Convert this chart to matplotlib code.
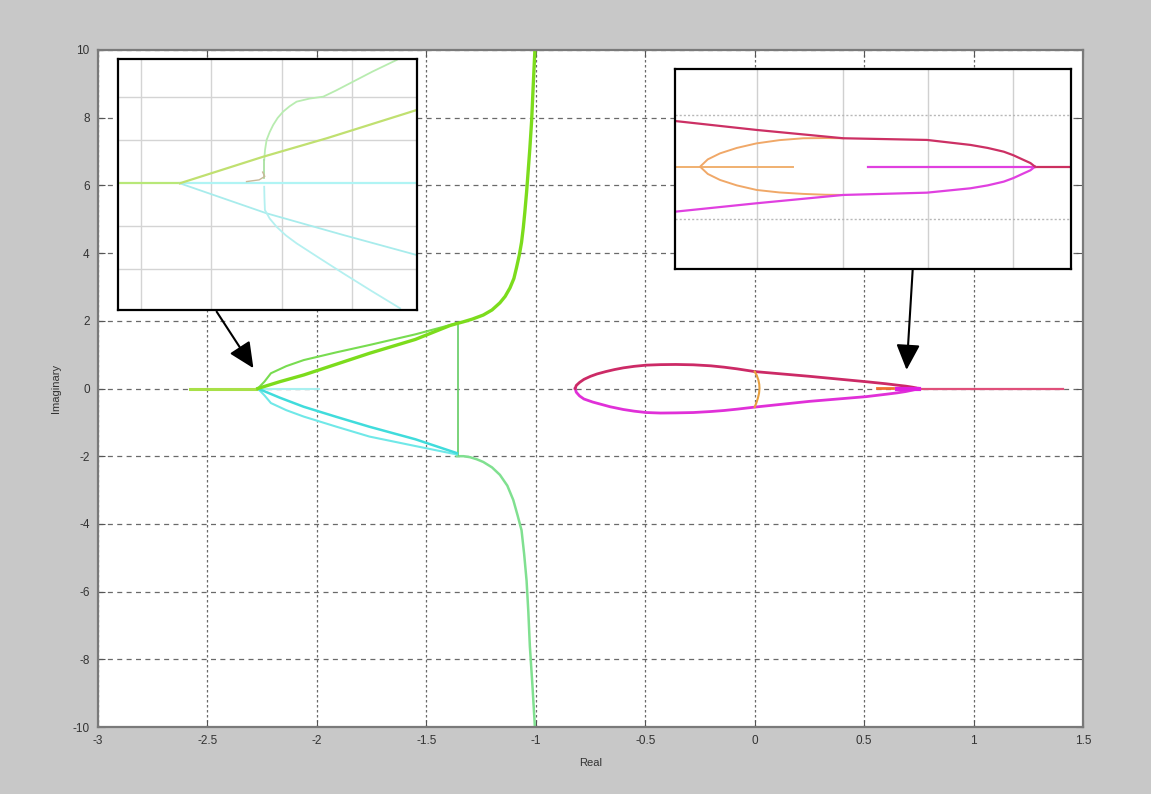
import matplotlib
matplotlib.use("Agg")
import matplotlib.pyplot as plt

plt.rcParams["font.family"] = ["Liberation Sans", "DejaVu Sans"]

# --- root locus branches (real, imag) ---
# left group: breakaway near -2.27, asymptotes to Re = -1
axis_green_re = [-2.58, -2.27]
axis_green_im = [0.0, 0.0]
axis_cyan_re = [-2.27, -1.99]
axis_cyan_im = [0.0, 0.0]

upper_a_re = [-2.27, -2.17, -2.06, -1.91, -1.76, -1.55, -1.392, -1.36, -1.331, -1.29,
              -1.240, -1.20, -1.164, -1.14, -1.118, -1.10, -1.088, -1.075, -1.065,
              -1.057, -1.050, -1.042, -1.035, -1.027, -1.019, -1.012, -1.004]
upper_a_im = [0.0, 0.20, 0.40, 0.72, 1.04, 1.45, 1.86, 1.92, 1.97, 2.05,
              2.17, 2.32, 2.53, 2.72, 2.97, 3.25, 3.57, 3.95, 4.32,
              4.75, 5.21, 5.80, 6.40, 7.10, 7.90, 8.90, 10.0]
upper_b_re = [-2.27, -2.255, -2.24, -2.21, -2.14, -2.06, -1.91, -1.76, -1.55, -1.36]
upper_b_im = [0.0, 0.10, 0.20, 0.45, 0.66, 0.84, 1.07, 1.285, 1.60, 1.93]

lower_a_re = [-2.27, -2.17, -2.06, -1.91, -1.76, -1.55, -1.36]
lower_a_im = [0.0, -0.27, -0.54, -0.84, -1.13, -1.50, -1.91]
lower_b_re = [-2.27, -2.255, -2.24, -2.21, -2.14, -2.06, -1.91, -1.76, -1.55, -1.36]
lower_b_im = [0.0, -0.10, -0.20, -0.43, -0.64, -0.83, -1.13, -1.42, -1.70, -1.95]

lower_tail_re = [-1.361, -1.33, -1.30, -1.27, -1.240, -1.20, -1.164, -1.13, -1.103,
                 -1.083, -1.065, -1.053, -1.042, -1.034, -1.027, -1.015, -1.004]
lower_tail_im = [-2.0, -2.0, -2.03, -2.09, -2.17, -2.33, -2.55, -2.87, -3.29,
                 -3.75, -4.19, -4.90, -5.68, -6.60, -7.62, -8.80, -10.0]

vert_re = [-1.355, -1.355]
vert_im = [1.93, -1.95]

# right group: closed loop between -0.82 and 0, tails meeting near 0.75
loop_up_re = [-0.82, -0.815, -0.80, -0.78, -0.75, -0.72, -0.68, -0.64, -0.60, -0.55,
              -0.495, -0.43, -0.36, -0.28, -0.20, -0.14, -0.08, 0.0,
              0.25, 0.51, 0.60, 0.65, 0.69, 0.72, 0.74, 0.747]
loop_up_im = [0.0, 0.09, 0.18, 0.27, 0.36, 0.43, 0.50, 0.56, 0.61, 0.655,
              0.69, 0.705, 0.71, 0.70, 0.67, 0.63, 0.58, 0.50,
              0.36, 0.20, 0.14, 0.10, 0.07, 0.04, 0.015, 0.0]
loop_lo_re = [-0.82, -0.815, -0.80, -0.78, -0.74, -0.70, -0.66, -0.60, -0.55,
              -0.495, -0.43, -0.36, -0.28, -0.20, -0.14, -0.08, 0.0,
              0.25, 0.51, 0.60, 0.65, 0.69, 0.72, 0.74, 0.747]
loop_lo_im = [0.0, -0.11, -0.22, -0.31, -0.40, -0.47, -0.54, -0.62, -0.67,
              -0.71, -0.725, -0.72, -0.71, -0.68, -0.65, -0.61, -0.55,
              -0.38, -0.24, -0.17, -0.13, -0.09, -0.05, -0.02, 0.0]
close_re = [0.0, 0.010, 0.017, 0.021, 0.022, 0.020, 0.015, 0.008, 0.0]
close_im = [0.50, 0.38, 0.25, 0.12, 0.0, -0.14, -0.28, -0.42, -0.55]
right_axis_re = [0.747, 1.41]
right_axis_im = [0.0, 0.0]
blob_re = [0.65, 0.75]
blob_im = [0.0, 0.0]
orange_tick_re = [0.56, 0.63]
orange_tick_im = [0.01, 0.01]

# --- zoomed view near the left breakaway point ---
zl_axis_re = [-2.3167, -2.2726]
zl_axis_im = [0.0, 0.0]
zl_cyan_re = [-2.2726, -2.1036]
zl_cyan_im = [0.0, 0.0]
zl_up_line_re = [-2.2726, -2.2131, -2.1679, -2.1036]
zl_up_line_im = [0.0, 0.0309, 0.0523, 0.0852]
zl_up_curve_re = [-2.2124, -2.2118, -2.2107, -2.2085, -2.2060, -2.2028, -2.1989,
                  -2.1943, -2.1893, -2.1800, -2.1703, -2.1610, -2.1512, -2.1350, -2.1179]
zl_up_curve_im = [0.0271, 0.0390, 0.0503, 0.0595, 0.0678, 0.0760, 0.0833,
                  0.0895, 0.0949, 0.0985, 0.1007, 0.1080, 0.1163, 0.1300, 0.1434]
zl_up_vert_re = [-2.2124, -2.2124]
zl_up_vert_im = [0.0271, 0.0058]
zl_hook_re = [-2.2250, -2.2160, -2.2120, -2.2135]
zl_hook_im = [0.0020, 0.0040, 0.0080, 0.0130]
zl_lo_line_re = [-2.2726, -2.2107, -2.156, -2.1036]
zl_lo_line_im = [0.0, -0.0349, -0.0601, -0.0834]
zl_lo_curve_re = [-2.2124, -2.2122, -2.2119, -2.2085, -2.2036, -2.1970, -2.1893,
                  -2.1730, -2.156, -2.1360, -2.1155]
zl_lo_curve_im = [-0.004, -0.018, -0.031, -0.0410, -0.0505, -0.0605, -0.0698,
                  -0.0870, -0.1047, -0.1250, -0.1453]

# --- zoomed view near the right meeting point ---
zr_up_re = [0.5518, 0.5996, 0.6504, 0.6994, 0.7249, 0.735, 0.7444, 0.75, 0.7561, 0.76, 0.7627]
zr_up_im = [0.0439, 0.0353, 0.0273, 0.0257, 0.0209, 0.0180, 0.0144, 0.0110, 0.0064, 0.0035, 0.0]
zr_lo_re = [0.5518, 0.5996, 0.6504, 0.6994, 0.7249, 0.735, 0.7444, 0.75, 0.7561, 0.76, 0.7627]
zr_lo_im = [-0.0433, -0.0352, -0.0272, -0.0250, -0.0208, -0.0180, -0.0144, -0.0110, -0.0064,
            -0.0035, 0.0]
zr_ell_re = [0.6504, 0.640, 0.627, 0.613, 0.5996, 0.588, 0.5782, 0.571, 0.5665,
             0.571, 0.5782, 0.588, 0.5996, 0.613, 0.627, 0.640, 0.6504]
zr_ell_im = [0.0273, 0.0275, 0.0273, 0.0255, 0.0224, 0.0180, 0.0128, 0.0070, 0.0,
             -0.0070, -0.0128, -0.0180, -0.0224, -0.0248, -0.0262, -0.0270, -0.0272]
zr_orange_re = [0.5528, 0.6211]
zr_magenta_re = [0.6650, 0.7627]
zr_red_re = [0.7627, 0.7838]

x_ticks = [-3, -2.5, -2, -1.5, -1, -0.5, 0, 0.5, 1, 1.5]
y_ticks = [-10, -8, -6, -4, -2, 0, 2, 4, 6, 8, 10]

W, H = 1151, 794
fig = plt.figure(figsize=(W / 100, H / 100), dpi=100, facecolor="#c8c8c8")


def px_rect(x0, y0, x1, y1):
    return [x0 / W, 1 - y1 / H, (x1 - x0) / W, (y1 - y0) / H]


ax = fig.add_axes(px_rect(98, 50, 1083, 727))
ax.set_facecolor("white")
ax.set_xlim(-3, 1.5)
ax.set_ylim(-10, 10)
ax.set_xticks(x_ticks)
ax.set_yticks(y_ticks)
ax.set_xticklabels([f"{v:g}" for v in x_ticks])
ax.set_yticklabels([f"{v:g}" for v in y_ticks])
ax.tick_params(direction="in", length=5, width=0.8, color="#555555",
               labelsize=8.5, labelcolor="#333333", top=True, right=True, pad=6)
for s in ax.spines.values():
    s.set_color("#7a7a7a")
    s.set_linewidth(1.6)
ax.xaxis.grid(True, color="#6a6a6a", lw=0.9, ls=(0, (2, 2)))
ax.yaxis.grid(True, color="#6a6a6a", lw=0.9, ls=(0, (4, 3.5)))
ax.set_axisbelow(True)
ax.set_xlabel("Real", fontsize=8, color="#333333", labelpad=8)
ax.set_ylabel("Imaginary", fontsize=8, color="#333333", labelpad=8)

ax.plot(axis_green_re, axis_green_im, color="#a8e048", lw=2.2)
ax.plot(axis_cyan_re, axis_cyan_im, color="#a8f0f0", lw=1.5)
ax.plot(lower_tail_re, lower_tail_im, color="#80e090", lw=1.8)
ax.plot(vert_re, vert_im, color="#70d070", lw=1.3)
ax.plot(lower_b_re, lower_b_im, color="#70e8e8", lw=1.5)
ax.plot(lower_a_re, lower_a_im, color="#40dcdc", lw=1.8)
ax.plot(upper_b_re, upper_b_im, color="#78dc50", lw=1.5)
ax.plot(upper_a_re, upper_a_im, color="#7cdc1c", lw=2.4)

ax.plot(right_axis_re, right_axis_im, color="#e0507a", lw=1.6)
ax.plot(loop_lo_re, loop_lo_im, color="#e030d8", lw=2.0)
ax.plot(loop_up_re, loop_up_im, color="#cc2a66", lw=2.0)
ax.plot(close_re, close_im, color="#e8a040", lw=1.5)
ax.plot(blob_re, blob_im, color="#e020e0", lw=3.0)
ax.plot(orange_tick_re, orange_tick_im, color="#f07030", lw=2.0)

arrow = dict(arrowstyle="-|>,head_length=0.6,head_width=0.28",
             mutation_scale=26, color="black", lw=1.5, shrinkA=0, shrinkB=0)
ax.annotate("", xy=(-2.29, 0.60), xytext=(-2.458, 2.27), arrowprops=arrow,
            annotation_clip=False)
ax.annotate("", xy=(0.694, 0.55), xytext=(0.7223, 3.55), arrowprops=arrow,
            annotation_clip=False)

# left zoom panel
axl = fig.add_axes(px_rect(118, 59, 417, 310))
axl.set_xlim(-2.3167, -2.1034)
axl.set_ylim(-0.1473, 0.1445)
axl.set_xticks([-2.30, -2.25, -2.20, -2.15])
axl.set_yticks([-0.10, -0.05, 0.05, 0.10])
axl.grid(True, color="#d4d4d4", lw=1.0)
axl.tick_params(length=0, labelbottom=False, labelleft=False)
for s in axl.spines.values():
    s.set_color("black")
    s.set_linewidth(1.6)
axl.plot(zl_axis_re, zl_axis_im, color="#b8e878", lw=1.6)
axl.plot(zl_cyan_re, zl_cyan_im, color="#b0f4f4", lw=1.6)
axl.plot(zl_lo_line_re, zl_lo_line_im, color="#a8ecec", lw=1.3)
axl.plot(zl_lo_curve_re, zl_lo_curve_im, color="#b4f0f0", lw=1.3)
axl.plot(zl_up_curve_re, zl_up_curve_im, color="#b8ecb0", lw=1.3)
axl.plot(zl_up_vert_re, zl_up_vert_im, color="#a8e0a0", lw=1.3)
axl.plot(zl_hook_re, zl_hook_im, color="#c8b898", lw=1.0)
axl.plot(zl_up_line_re, zl_up_line_im, color="#c0e070", lw=1.6)

# right zoom panel
axr = fig.add_axes(px_rect(675, 69, 1071, 269))
axr.set_xlim(0.5518, 0.7838)
axr.set_ylim(-0.0984, 0.0939)
axr.set_xticks([0.60, 0.65, 0.70, 0.75])
axr.set_yticks([-0.05, 0.05])
axr.xaxis.grid(True, color="#d0d0d0", lw=1.0)
axr.yaxis.grid(True, color="#b8b8b8", lw=1.0, ls=(0, (1.5, 1.5)))
axr.tick_params(length=0, labelbottom=False, labelleft=False)
for s in axr.spines.values():
    s.set_color("black")
    s.set_linewidth(1.6)
axr.plot(zr_orange_re, [0, 0], color="#f0b070", lw=1.4)
axr.plot(zr_ell_re, zr_ell_im, color="#f0a868", lw=1.4)
axr.plot(zr_magenta_re, [0, 0], color="#e040e0", lw=1.6)
axr.plot(zr_red_re, [0, 0], color="#cc3060", lw=1.6)
axr.plot(zr_lo_re, zr_lo_im, color="#e040e0", lw=1.6)
axr.plot(zr_up_re, zr_up_im, color="#cc3064", lw=1.6)

fig.savefig("out.png", dpi=100, facecolor=fig.get_facecolor())
